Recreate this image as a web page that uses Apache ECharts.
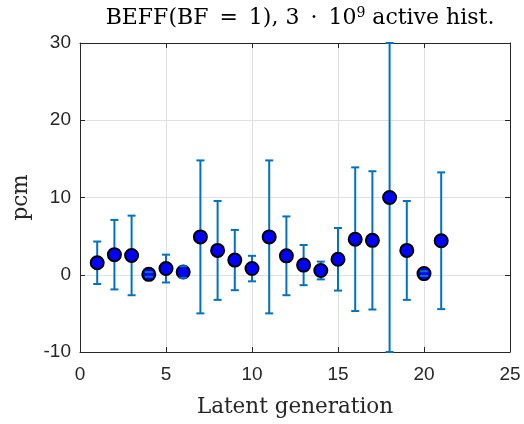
<!DOCTYPE html>
<html>
<head>
<meta charset="utf-8">
<script src="https://cdn.jsdelivr.net/npm/echarts@6/dist/echarts.min.js"></script>
<style>html,body{margin:0;padding:0;background:#fff}#c{width:524px;height:424px}</style>
</head>
<body>
<div id="c"></div>
<script>
const generations = [1,2,3,4,5,6,7,8,9,10,11,12,13,14,15,16,17,18,19,20,21];
const values = [1.55,2.6,2.5,0.05,0.8,0.35,4.9,3.15,1.9,0.8,4.9,2.45,1.25,0.55,2.0,4.6,4.45,10.0,3.15,0.15,4.4];
const errors = [2.75,4.5,5.15,0.3,1.8,0.75,9.9,6.4,3.9,1.65,9.9,5.1,2.6,1.15,4.05,9.3,8.95,20,6.4,0.3,8.85];
const xTicks = [0,5,10,15,20,25];
const yTicks = [-10,0,10,20,30];

const pts = generations.map((g,i)=>[g, values[i]]);
const errData = generations.map((g,i)=>[g, values[i]-errors[i], values[i]+errors[i]]);
const BAR = '#0072BD';
const AX = '#262626';
const SERIF = 'DejaVu Serif';
const capHalf = 4;

const chart = echarts.init(document.getElementById('c'), null, {renderer:'canvas'});
const axisCommon = {
  axisLine:{show:true, onZero:false, lineStyle:{color:AX, width:1}},
  axisTick:{show:true, inside:true, length:5, lineStyle:{color:AX}},
};
chart.setOption({
  animation:false,
  backgroundColor:'#fff',
  title:{
    text:'BEFF(BF\u2002=\u20021), 3\u2002·\u200210{sup|9} active hist.',
    left:295, top:1, textAlign:'center',
    textStyle:{fontFamily:SERIF, fontSize:22, fontWeight:'normal', color:'#000',
      rich:{sup:{fontFamily:SERIF, fontSize:14, color:'#000', padding:[0,0,11,0]}}}
  },
  grid:{left:80, right:14, top:43, bottom:72, containLabel:false},
  xAxis:[{
    type:'value', min:0, max:25, interval:5, position:'bottom',
    name:'Latent generation', nameLocation:'middle', nameGap:44,
    nameTextStyle:{fontFamily:SERIF, fontSize:21.5, color:'#262626'},
    ...axisCommon,
    axisLabel:{fontFamily:'Liberation Sans', fontSize:19, color:AX, margin:13},
    splitLine:{show:true, lineStyle:{color:'#e0e0e0', width:1}}
  },{
    type:'value', min:0, max:25, interval:5, position:'top',
    ...axisCommon, axisLabel:{show:false}, splitLine:{show:false}
  }],
  yAxis:[{
    type:'value', min:-10, max:30, interval:10, position:'left',
    name:'pcm', nameLocation:'middle', nameGap:48,
    nameTextStyle:{fontFamily:SERIF, fontSize:21.5, color:'#262626'},
    ...axisCommon,
    axisLabel:{fontFamily:'Liberation Sans', fontSize:19, color:AX, margin:9},
    splitLine:{show:true, lineStyle:{color:'#e0e0e0', width:1}}
  },{
    type:'value', min:-10, max:30, interval:10, position:'right',
    ...axisCommon, axisLabel:{show:false}, splitLine:{show:false}
  }],
  series:[{
    type:'custom', z:2,
    data:errData,
    encode:{x:0, y:[1,2]},
    renderItem:function(params, api){
      const x = api.value(0);
      const lo = api.coord([x, api.value(1)]);
      const hi = api.coord([x, api.value(2)]);
      return {type:'line', shape:{x1:lo[0], y1:lo[1], x2:hi[0], y2:hi[1]},
        style:{stroke:BAR, lineWidth:2}};
    }
  },{
    type:'scatter', z:3,
    data:pts,
    symbol:'circle', symbolSize:13,
    itemStyle:{color:'#0000FF', borderColor:'#000', borderWidth:2, opacity:1}
  },{
    type:'custom', z:4,
    data:errData,
    encode:{x:0, y:[1,2]},
    renderItem:function(params, api){
      const x = api.value(0);
      const lo = api.coord([x, api.value(1)]);
      const hi = api.coord([x, api.value(2)]);
      return {type:'group', children:[
        {type:'line', shape:{x1:lo[0]-capHalf, y1:lo[1], x2:lo[0]+capHalf, y2:lo[1]}, style:{stroke:BAR, lineWidth:2}},
        {type:'line', shape:{x1:hi[0]-capHalf, y1:hi[1], x2:hi[0]+capHalf, y2:hi[1]}, style:{stroke:BAR, lineWidth:2}}
      ]};
    }
  }]
});
</script>
</body>
</html>
